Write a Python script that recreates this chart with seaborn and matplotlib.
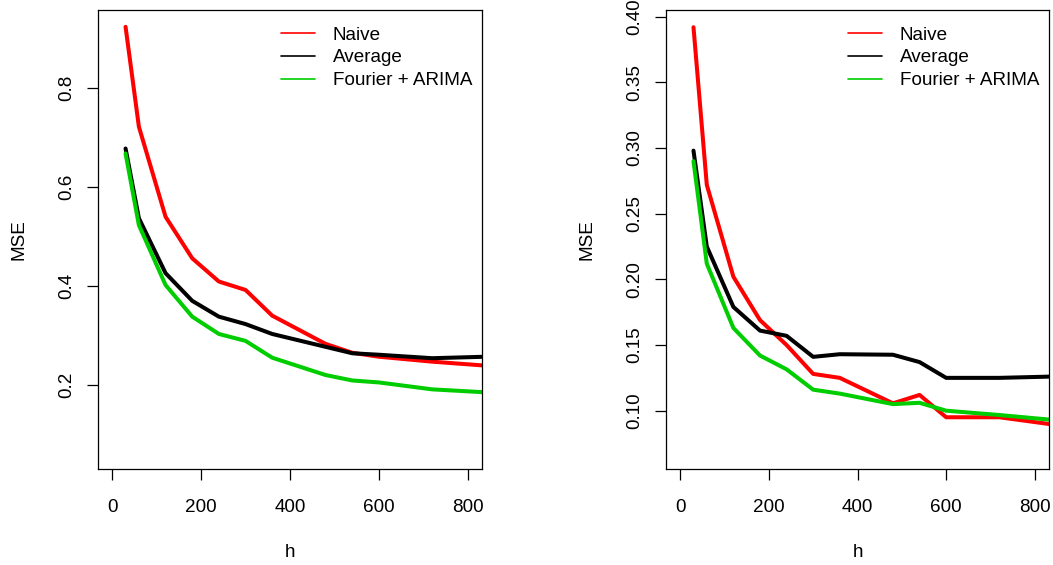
import numpy as np
import pandas as pd
import matplotlib
matplotlib.use("Agg")
import matplotlib.pyplot as plt
from matplotlib.lines import Line2D
import seaborn as sns

# forecast horizons
h = [30, 60, 120, 180, 240, 300, 360, 480, 540, 600, 720, 840]
methods = ["Naive", "Average", "Fourier + ARIMA"]

# left panel MSE
naive_1 = [0.924, 0.722, 0.540, 0.456, 0.409, 0.392, 0.340, 0.283, 0.265, 0.257, 0.247, 0.239]
avg_1 = [0.678, 0.537, 0.426, 0.370, 0.338, 0.323, 0.303, 0.277, 0.264, 0.261, 0.254, 0.257]
four_1 = [0.668, 0.523, 0.402, 0.338, 0.303, 0.289, 0.255, 0.220, 0.209, 0.205, 0.191, 0.185]

# right panel MSE
naive_2 = [0.392, 0.272, 0.202, 0.169, 0.150, 0.128, 0.125, 0.1056, 0.112, 0.095, 0.095, 0.0895]
avg_2 = [0.298, 0.225, 0.179, 0.161, 0.157, 0.141, 0.143, 0.1426, 0.137, 0.125, 0.125, 0.126]
four_2 = [0.290, 0.212, 0.163, 0.142, 0.1315, 0.116, 0.113, 0.105, 0.106, 0.100, 0.0967, 0.093]

colors = {"Naive": "#FF0000", "Average": "#000000", "Fourier + ARIMA": "#00CD00"}

sns.set_theme(style="ticks")
plt.rcParams['font.family'] = ['Liberation Sans', 'DejaVu Sans']
plt.rcParams['text.color'] = 'black'
plt.rcParams['axes.labelcolor'] = 'black'
FS = 13.6


def to_long(series):
    frames = []
    for name, vals in zip(methods, series):
        frames.append(pd.DataFrame({"h": h, "MSE": vals, "method": name}))
    return pd.concat(frames, ignore_index=True)


def panel(ax, df, ylim, yticks, fmt):
    sns.lineplot(data=df, x="h", y="MSE", hue="method", palette=colors,
                 linewidth=2.9, ax=ax, legend=False, sort=False,
                 solid_joinstyle="round")
    ax.set_xlim(-32, 832)
    ax.set_ylim(*ylim)
    ax.set_xticks([0, 200, 400, 600, 800])
    ax.set_yticks(yticks)
    ax.set_yticklabels([fmt % v for v in yticks], rotation=90, va="center")
    for s in ax.spines.values():
        s.set_visible(True)
        s.set_linewidth(0.9)
        s.set_color("black")
    ax.tick_params(axis="both", length=8, width=0.9, color="black",
                   labelsize=FS, labelcolor="black")
    ax.tick_params(axis="y", pad=8.5)
    ax.tick_params(axis="x", pad=13.5)
    ax.set_xlabel("h", fontsize=FS, va="center")
    ax.set_ylabel("MSE", fontsize=FS, va="center")
    ax.xaxis.set_label_coords(0.5, -0.181)
    ax.yaxis.set_label_coords(-0.206, 0.5)
    handles = [Line2D([], [], color=colors[m], lw=1.2) for m in methods]
    ax.legend(handles, methods, loc="upper right", bbox_to_anchor=(0.975, 0.964),
              frameon=False, fontsize=FS, borderpad=0, borderaxespad=0,
              handlelength=1.8, handletextpad=0.95, labelspacing=0.29,
              labelcolor="black")


fig = plt.figure(figsize=(10.53, 5.65), dpi=100)
ax1 = fig.add_axes([98 / 1053, 96 / 565, 384 / 1053, 459 / 565])
ax2 = fig.add_axes([666 / 1053, 96 / 565, 383 / 1053, 459 / 565])

panel(ax1, to_long([naive_1, avg_1, four_1]), (0.030, 0.958),
      [0.2, 0.4, 0.6, 0.8], "%.1f")
panel(ax2, to_long([naive_2, avg_2, four_2]), (0.0556, 0.4051),
      [0.10, 0.15, 0.20, 0.25, 0.30, 0.35, 0.40], "%.2f")

fig.savefig("out.png", dpi=100)
